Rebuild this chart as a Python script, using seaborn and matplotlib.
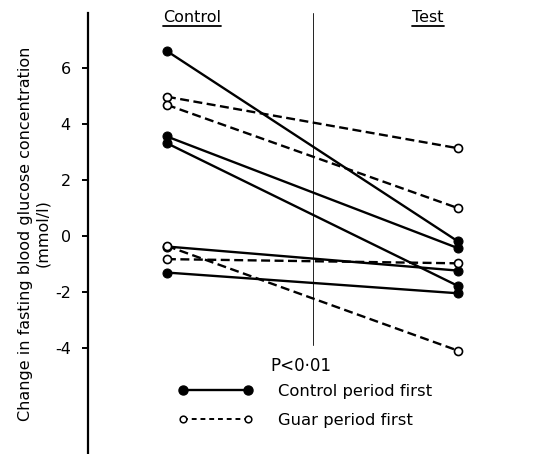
import numpy as np
import pandas as pd
import matplotlib
matplotlib.use("Agg")
import matplotlib.pyplot as plt
from matplotlib.lines import Line2D
import seaborn as sns

# Data (change in fasting blood glucose, mmol/l)
periods = ["Control", "Test"]
control_first_ctrl = [6.6, 3.55, 3.31, -0.38, -1.31]
control_first_test = [-0.2, -0.44, -1.79, -1.24, -2.05]
guar_first_ctrl = [4.97, 4.68, -0.36, -0.83]
guar_first_test = [3.13, 0.99, -4.1, -0.98]
y_ticks = [6, 4, 2, 0, -2, -4]
y_tick_labels = ["6", "4", "2", "0", "-2", "-4"]


def to_long(ctrl, test, group):
    rows = []
    for i, (a, b) in enumerate(zip(ctrl, test)):
        rows.append({"subject": f"{group}{i}", "period": 0, "value": a, "group": group})
        rows.append({"subject": f"{group}{i}", "period": 1, "value": b, "group": group})
    return pd.DataFrame(rows)


df_c = to_long(control_first_ctrl, control_first_test, "Control period first")
df_g = to_long(guar_first_ctrl, guar_first_test, "Guar period first")

sns.set_style("white")
plt.rcParams["font.family"] = ["DejaVu Sans"]
plt.rcParams["font.size"] = 11.5
plt.rcParams["text.color"] = "black"
plt.rcParams["axes.labelcolor"] = "black"
plt.rcParams["ytick.color"] = "black"

fig = plt.figure(figsize=(5.37, 4.54), dpi=100)
ax = fig.add_axes([88 / 537, 0, 449 / 537, 441 / 454])

# solid lines, filled circles
sns.lineplot(data=df_c, x="period", y="value", units="subject", estimator=None,
             color="black", linewidth=1.7, marker="o", markersize=6.5,
             markerfacecolor="black", markeredgecolor="black", ax=ax, legend=False)
# dashed lines, open circles
sns.lineplot(data=df_g, x="period", y="value", units="subject", estimator=None,
             color="black", linewidth=1.7, linestyle=(0, (3.8, 1.9)), marker="o",
             markersize=5.8, markerfacecolor="white", markeredgecolor="black",
             markeredgewidth=1.2, ax=ax, legend=False)

ax.set_xlim(-0.271, 1.271)
ax.set_ylim(-7.79, 7.96)

# thin divider between the periods
ax.plot([0.5, 0.5], [-3.9, 7.96], color="#222222", linewidth=0.7, zorder=0)

ax.set_yticks(y_ticks)
ax.set_yticklabels(y_tick_labels)
ax.set_xticks([])
ax.set_xlabel("")
ax.set_ylabel("Change in fasting blood glucose concentration\n(mmol/l)",
              fontsize=11.5, labelpad=3, linespacing=1.2)
ax.tick_params(axis="y", direction="out", length=4.5, width=1.4, pad=8,
               left=True, labelsize=11.5)
for s in ["top", "right", "bottom"]:
    ax.spines[s].set_visible(False)
ax.spines["left"].set_linewidth(1.6)
ax.spines["left"].set_color("black")

# period headers (underlined)
ax.text(0.086, 0.98, periods[0], transform=ax.get_xaxis_transform(), ha="center",
        va="baseline", fontsize=11.5)
ax.text(0.897, 0.98, periods[1], transform=ax.get_xaxis_transform(), ha="center",
        va="baseline", fontsize=11.5)

ax.text(0.46, -4.65, "P<0·01", ha="center", va="center", fontsize=12)

handles = [
    Line2D([], [], color="black", linewidth=1.7, marker="o", markersize=6.5,
           markerfacecolor="black"),
    Line2D([], [], color="black", linewidth=1.4, linestyle=(0, (2.5, 2)),
           marker="o", markersize=4.8, markerfacecolor="white", markeredgewidth=1.1),
]
fig.legend(handles, ["Control period first", "Guar period first"], loc="upper left",
           bbox_to_anchor=(178 / 537, 1 - 384 / 454), frameon=False, numpoints=2,
           handlelength=4.6, handletextpad=1.5, labelspacing=0.85, borderpad=0,
           borderaxespad=0, fontsize=11.8)

# underline the headers
fig.canvas.draw()
r = fig.canvas.get_renderer()
for t in ax.texts[:2]:
    bb = t.get_window_extent(r)
    y = bb.y0 - 1
    fig.add_artist(Line2D([bb.x0 / fig.bbox.width, bb.x1 / fig.bbox.width],
                          [y / fig.bbox.height, y / fig.bbox.height],
                          color="black", linewidth=1.3))

fig.savefig("out.png", dpi=100)
